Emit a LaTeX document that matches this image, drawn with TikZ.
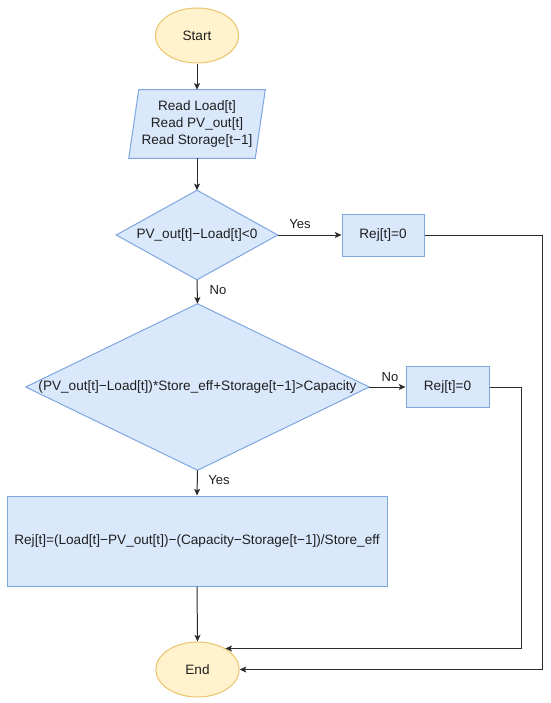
\documentclass[tikz,border=0pt]{standalone}
\usepackage{fontspec}
\setmainfont{Liberation Sans}
\usetikzlibrary{arrows.meta,calc,shapes.geometric,backgrounds}
\definecolor{bfill}{HTML}{DAE8FC}
\definecolor{bline}{HTML}{7EA6E0}
\definecolor{yfill}{HTML}{FFF2CC}
\definecolor{yline}{HTML}{EBC46E}
\definecolor{lnk}{HTML}{2B2B2B}
\begin{document}
\begin{tikzpicture}[x=0.75pt,y=-0.75pt,
  txt/.style={font=\fontsize{10.2}{12.7}\selectfont, text=black!88, align=center, inner sep=0pt},
  term/.style={txt, ellipse, draw=yline, fill=yfill, line width=0.75pt, minimum width=62.5pt, minimum height=41.25pt},
  box/.style={txt, rectangle, draw=bline, fill=bfill, line width=0.75pt},
  shapeln/.style={draw=bline, fill=bfill, line width=0.75pt, line join=miter},
  link/.style={draw=lnk, line width=0.75pt, -{Stealth[length=5pt,width=4.5pt,inset=1.2pt]}},
  lbl/.style={font=\fontsize{9.8}{12}\selectfont, text=black!88, inner sep=0pt}]
\useasboundingbox (0,0) rectangle (550,703);

% nodes
\node[term] (start) at (197,35.5) {Start};
\node[txt, minimum width=102pt, minimum height=51pt] (read) at (197,124)
  {Read Load[t]\\Read PV\_out[t]\\Read Storage[t−1]};
\node[txt, minimum width=120.75pt, minimum height=66.75pt] (dec1) at (197,235)
  {PV\_out[t]−Load[t]<0};
\node[box, minimum width=61.5pt, minimum height=31.5pt] (rej1) at (383,235) {Rej[t]=0};
\node[txt, minimum width=257.25pt, minimum height=124.5pt] (dec2) at (197.5,387)
  {(PV\_out[t]−Load[t])*Store\_eff+Storage[t−1]>Capacity};
\node[box, minimum width=62.25pt, minimum height=30.75pt] (rej2) at (447.5,387) {Rej[t]=0};
\node[box, minimum width=285pt, minimum height=67.5pt] (calc) at (197,541)
  {Rej[t]=(Load[t]−PV\_out[t])−(Capacity−Storage[t−1])/Store\_eff};
\node[term] (end) at (197.5,669.5) {End};

% shapes behind text
\begin{scope}[on background layer]
  \path[shapeln] (read.south west) -- ($(read.south east)+(-10,0)$)
     -- (read.north east) -- ($(read.north west)+(10,0)$) -- cycle;
  \path[shapeln] (dec1.north) -- (dec1.east) -- (dec1.south) -- (dec1.west) -- cycle;
  \path[shapeln] (dec2.north) -- (dec2.east) -- (dec2.south) -- (dec2.west) -- cycle;
\end{scope}

% labels
\node[lbl] (yes1) at (300,224.5) {Yes};
\node[lbl] (no1) at (218,290.5) {No};
\node[lbl] (no2) at (390,377) {No};
\node[lbl] (yes2) at (219,480) {Yes};

% connectors
\coordinate (r2x) at (521,0);
\coordinate (r1x) at (542,0);
\draw[link] (start) -- (read);
\draw[link] (read) -- (dec1);
\draw[link] (dec1.east) -- (rej1.west);
\draw[link] (dec1.south) -- (dec2.north);
\draw[link] (dec2.east) -- (rej2.west);
\draw[link] (dec2.south) -- (calc.north);
\draw[link] (calc.south) -- (end.north);
\draw[link] (rej2.east) -| (r2x |- end.37) -- (end.37);
\draw[link] (rej1.east) -| (r1x |- end.east) -- (end.east);
\end{tikzpicture}
\end{document}
